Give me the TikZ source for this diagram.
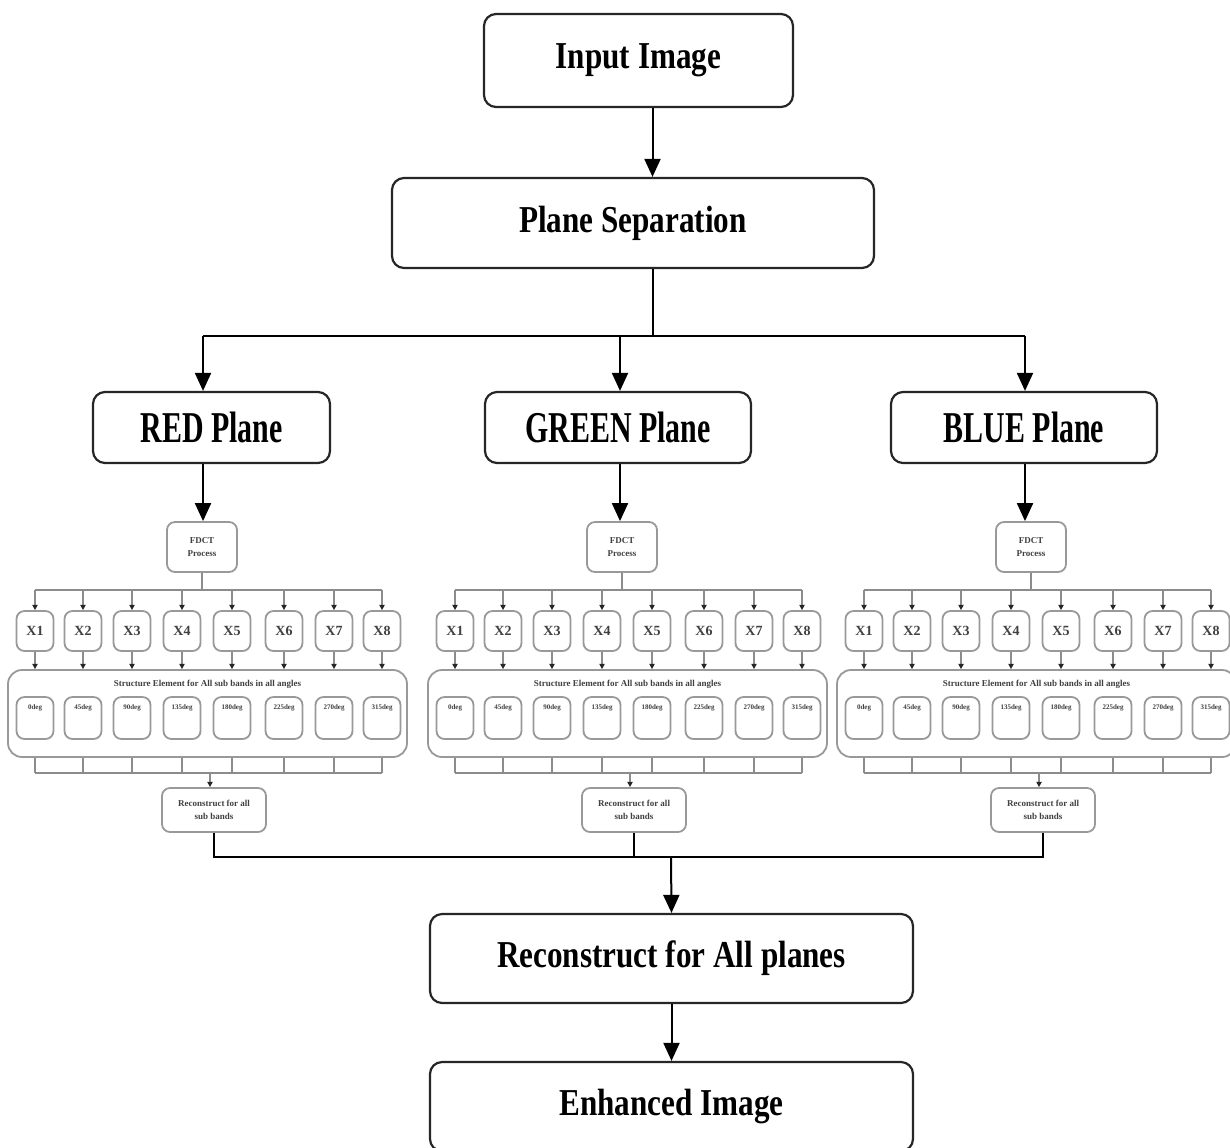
\documentclass[tikz,border=0pt]{standalone}
\usepackage{fontspec}
\setmainfont{Liberation Serif}
\newfontfamily\headfont[FakeStretch=0.82]{Liberation Serif}
\newfontfamily\planefont[FakeStretch=0.68]{Liberation Serif}
\usetikzlibrary{arrows.meta}

\tikzset{
  mainbox/.style={draw=black!85, line width=1.1pt, rounded corners=6pt, fill=white,
    font=\headfont\bfseries\fontsize{19}{22}\selectfont},
  planebox/.style={mainbox, font=\planefont\bfseries\fontsize{22}{26}\selectfont},
  subbox/.style={draw=black!40, line width=0.9pt, rounded corners=4pt, fill=white,
    align=center, inner sep=0pt, text=black!75,
    font=\bfseries\fontsize{4.5}{6.5}\selectfont},
  xbox/.style={subbox, minimum width=18.5pt, minimum height=20pt,
    font=\bfseries\fontsize{7}{8}\selectfont},
  degbox/.style={subbox, minimum width=18.5pt, minimum height=21pt},
  deglabel/.style={anchor=north, yshift=-4pt, inner sep=0pt, text=black!75,
    font=\bfseries\fontsize{3.5}{4}\selectfont},
  flow/.style={line width=1pt},
  bigarrow/.style={flow, -{Triangle[width=8pt,length=9pt]}},
  smallline/.style={draw=black!45, line width=0.9pt},
  smallarrow/.style={smallline, -{Triangle[width=2.6pt,length=2.6pt,color=black!85]}}
}

\begin{document}
\begin{tikzpicture}[x=0.5pt,y=-0.5pt]
\clip (0,0) rectangle (1230,1147);

% main flow
\node[mainbox, minimum width=154.5pt, minimum height=46.5pt] (inp) at (638.5,60.5) {Input Image};
\node[mainbox, minimum width=241pt, minimum height=45pt] (sep) at (633,223) {Plane Separation};
\node[planebox, minimum width=118.5pt, minimum height=35.5pt] (red) at (211.5,427.5) {RED Plane};
\node[planebox, minimum width=133pt, minimum height=35.5pt] (green) at (618,427.5) {GREEN Plane};
\node[planebox, minimum width=133pt, minimum height=35.5pt] (blue) at (1024,427.5) {BLUE Plane};
\node[mainbox, minimum width=241.5pt, minimum height=44.5pt] (allrec) at (671.5,958.5) {Reconstruct for All planes};
\node[mainbox, minimum width=241.5pt, minimum height=44.5pt] (enh) at (671.5,1106.5) {Enhanced Image};

\draw[bigarrow] ([xshift=7pt]inp.south) -- ([xshift=7pt]inp.south |- sep.north);
\draw[bigarrow] (allrec.south) -- (enh.north);

% one branch per colour plane
\foreach \pl/\ox/\src/\ax in {R/0/red/203, G/420/green/620, B/829/blue/1025} {
  \coordinate (col\pl) at (\ax,336);
  \node[subbox, minimum width=35pt, minimum height=25pt] (fdct\pl) at (\ox+202,547) {FDCT\\Process};
  \coordinate (top\pl) at (\ox+202,590);
  \node[subbox, minimum width=199.5pt, minimum height=43.5pt, rounded corners=7pt,
    label={[anchor=north, yshift=-5.5pt, inner sep=0pt, text=black!75,
      font=\bfseries\fontsize{4.5}{5}\selectfont]north:Structure Element for All sub bands in all angles}]
    (seb\pl) at (\ox+207.5,713.5) {};
  \coordinate (low\pl) at (\ox+210,773);
  \node[subbox, minimum width=52pt, minimum height=22pt] (rec\pl) at (\ox+214,810) {Reconstruct for all\\sub bands};

  \foreach \i/\xx/\ang in {1/35/0, 2/83/45, 3/132/90, 4/182/135, 5/232/180, 6/284/225, 7/334/270, 8/382/315} {
    \node[xbox] (x\pl\i) at (\ox+\xx,631) {X\i};
    \node[degbox, label={[deglabel]north:\ang deg}] (d\pl\i) at (\ox+\xx,718) {};
    \draw[smallarrow] (x\pl\i.north |- top\pl) -- (x\pl\i.north);
    \draw[smallarrow] (x\pl\i.south) -- (x\pl\i.south |- seb\pl.north);
    \draw[smallline] (x\pl\i.south |- seb\pl.south) -- (x\pl\i.south |- low\pl);
  }

  \draw[bigarrow] (col\pl) -- (col\pl |- \src.north);
  \draw[bigarrow] (col\pl |- \src.south) -- (col\pl |- fdct\pl.north);
  \draw[smallline] (fdct\pl.south) -- (top\pl);
  \draw[smallline] (x\pl1.north |- top\pl) -- (x\pl8.north |- top\pl);
  \draw[smallline] (x\pl1.south |- low\pl) -- (x\pl8.south |- low\pl);
  \draw[smallarrow] (low\pl) -- (low\pl |- rec\pl.north);
}

% split and merge
\draw[flow] ([xshift=10pt]sep.south) -- ([xshift=10pt]sep.south |- colR);
\draw[flow] (colR) -- (colB);
\coordinate (merge) at (671,857);
\draw[flow] (recR.south) |- (merge) -| (recB.south);
\draw[flow] (recG.south) -- (recG.south |- merge);
\draw[bigarrow] (merge) -- (allrec.north);
\end{tikzpicture}
\end{document}
